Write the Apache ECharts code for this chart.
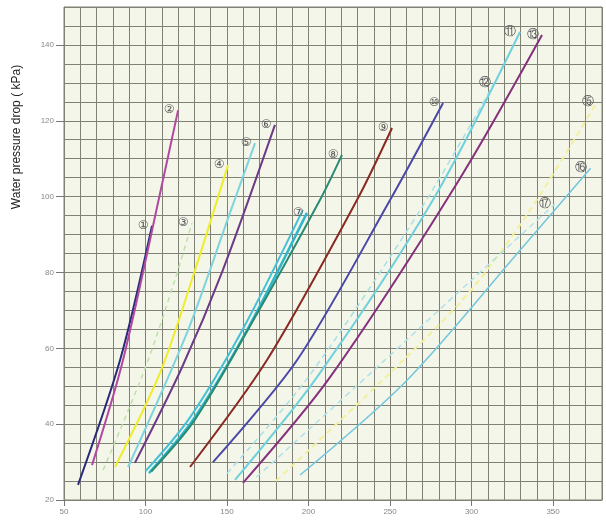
<!DOCTYPE html>
<html><head><meta charset="utf-8">
<script src="https://cdn.jsdelivr.net/npm/echarts@6/dist/echarts.min.js"></script>
<style>html,body{margin:0;padding:0;background:#fff}#c{width:606px;height:522px}</style>
</head><body><div id="c"></div>
<script>
// axis ticks
const xTicks = [50, 100, 150, 200, 250, 300, 350];
const yTicks = [20, 40, 60, 80, 100, 120, 140];

// flow (x) vs water pressure drop (kPa) for each unit curve
const u1   = [[58.6, 24], [84.4, 56.9], [104, 92.3]];
const u2   = [[67.2, 29.2], [86.2, 56.9], [110.7, 104.4], [120, 122.8]];
const u3   = [[74, 27.9], [100, 55], [118, 78], [128.5, 93]];
const u4   = [[81.3, 28.7], [108.9, 53.5], [129, 78.8], [150.6, 108.3]];
const u5   = [[89.3, 28.7], [126.1, 64.8], [151.8, 95.7], [167.2, 114.1]];
const u6   = [[93.5, 29.8], [122.4, 55], [147.5, 80.7], [179.4, 118.9]];
const u7   = [[102.1, 27.1], [129.1, 41.1], [162.3, 64.8], [199, 95.7]];
const u7b  = [[100, 27.6], [127, 41.6], [160, 65.3], [196.5, 96.5]];
const u8   = [[103.5, 27.5], [130, 41], [163, 65], [207, 99.1], [220.5, 111]];
const u9   = [[127.3, 28.7], [174.5, 56.9], [229.7, 99.1], [251.2, 118.1]];
const u10  = [[141.4, 30], [193, 56.9], [250, 99.1], [282.5, 124.7]];
const u11b = [[150, 27], [200, 52.5], [270, 97.5], [314, 130]];
const u11  = [[154.9, 25.3], [205.2, 52.4], [276.3, 99.1], [329.7, 143.4]];
const u12  = [[159.8, 24.5], [213.2, 52.4], [292.3, 104.4], [343.2, 142.6]];
const u13  = [[180, 25], [256, 56], [299, 75], [336, 96.5], [377, 125]];
const u13b = [[168, 26], [242, 55], [300, 78], [351, 98]];
const u14  = [[194.8, 26.6], [260.4, 51.6], [330, 86], [373, 107.5]];

const curves = [
  {data: u1,   mark: '①', color: '#2b2a78', width: 2},
  {data: u2,   mark: '②', color: '#b04aa0', width: 2},
  {data: u3,   mark: '③', color: '#bfe0a8', width: 1.5, dash: [5, 4]},
  {data: u4,   mark: '④', color: '#f0ec2a', width: 2},
  {data: u5,   mark: '⑤', color: '#7fd3df', width: 2},
  {data: u6,   mark: '⑥', color: '#6c3a86', width: 2},
  {data: u7,   mark: '⑦', color: '#2fb6cf', width: 2.5},
  {data: u7b,  mark: '',  color: '#45c0d6', width: 2},
  {data: u8,   mark: '⑧', color: '#2b8a72', width: 2},
  {data: u9,   mark: '⑨', color: '#8a2a22', width: 2},
  {data: u10,  mark: '⑩', color: '#4a48a8', width: 2},
  {data: u11b, mark: '⑫', color: '#a8e0e8', width: 1.5, dash: [6, 4]},
  {data: u11,  mark: '⑪', color: '#6fd0de', width: 2},
  {data: u12,  mark: '⑬', color: '#86307e', width: 2},
  {data: u13,  mark: '⑮', color: '#f2f09a', width: 2, dash: [6, 4]},
  {data: u13b, mark: '⑰', color: '#b0e2ea', width: 1.5, dash: [6, 4]},
  {data: u14,  mark: '⑯', color: '#72c6de', width: 1.5}
];

const series = curves.map(c => ({
  type: 'line',
  smooth: 0.3,
  showSymbol: false,
  symbol: 'none',
  xAxisIndex: 0,
  yAxisIndex: 0,
  data: c.data,
  lineStyle: {color: c.color, width: c.width, type: c.dash || 'solid'},
  itemStyle: {color: c.color},
  emphasis: {disabled: true},
  markPoint: c.mark ? {
    symbol: 'circle', symbolSize: 1, silent: true,
    itemStyle: {color: 'rgba(0,0,0,0)'},
    label: {show: true, formatter: c.mark, position: 'left', distance: 3,
      color: '#555', fontSize: 12, fontFamily: 'DejaVu Sans'},
    data: [{coord: c.data[c.data.length - 1]}]
  } : undefined,
  z: 3
}));

const gridColor = '#7f8275';
const chart = echarts.init(document.getElementById('c'), null, {renderer: 'canvas'});
chart.setOption({
  animation: false,
  backgroundColor: '#ffffff',
  grid: {left: 64, right: 4, top: 7, bottom: 22, show: true,
    backgroundColor: '#f4f6e9', borderColor: gridColor, borderWidth: 1},
  xAxis: [{
    // fine grid every 10
    type: 'value', min: 50, max: 380, interval: 10, position: 'bottom',
    axisLine: {show: true, lineStyle: {color: gridColor}},
    axisTick: {show: false}, axisLabel: {show: false},
    splitLine: {show: true, lineStyle: {color: gridColor, width: 1}}
  }, {
    // labelled ticks every 50
    type: 'value', min: 50, max: 380, position: 'bottom', offset: 0,
    axisLine: {show: false},
    axisTick: {show: true, customValues: xTicks, length: 6, lineStyle: {color: '#777'}},
    axisLabel: {customValues: xTicks, color: '#888', fontSize: 8, margin: 8, fontFamily: 'Liberation Sans'},
    splitLine: {show: false}
  }],
  yAxis: [{
    type: 'value', min: 20, max: 150, interval: 5, position: 'left',
    axisLine: {show: true, lineStyle: {color: gridColor}},
    axisTick: {show: false}, axisLabel: {show: false},
    splitLine: {show: true, lineStyle: {color: gridColor, width: 1}}
  }, {
    type: 'value', min: 20, max: 150, position: 'left', offset: 0,
    axisLine: {show: false},
    axisTick: {show: true, customValues: yTicks, length: 8, lineStyle: {color: '#777'}},
    axisLabel: {customValues: yTicks, color: '#888', fontSize: 8, margin: 10, fontFamily: 'Liberation Sans'},
    splitLine: {show: false}
  }],
  graphic: [{
    type: 'text', x: 17, y: 137, rotation: Math.PI / 2,
    style: {text: 'Water pressure drop ( kPa)', fill: '#222', fontSize: 12,
      fontFamily: 'Liberation Sans', align: 'center', verticalAlign: 'middle'}
  }],
  series: series
});
</script></body></html>
